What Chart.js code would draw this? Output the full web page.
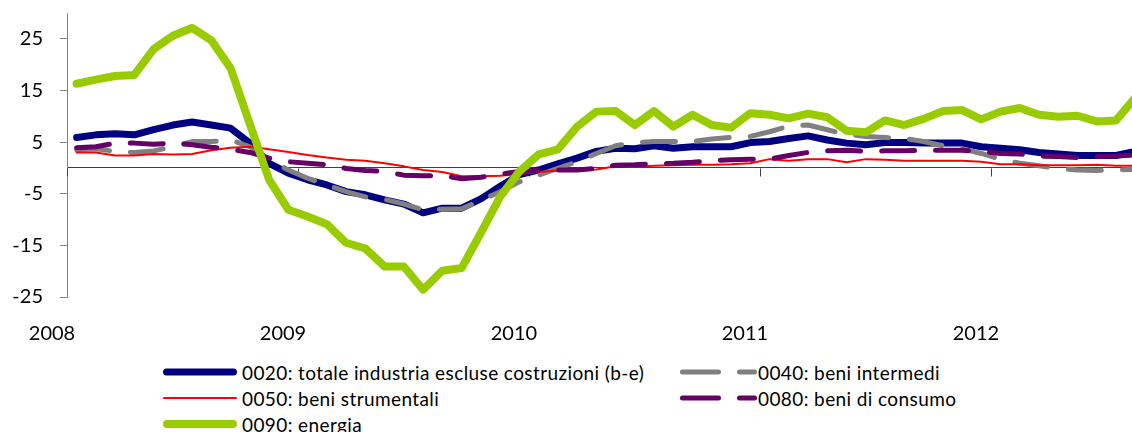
<!DOCTYPE html>
<html><head><meta charset="utf-8">
<script src="https://cdn.jsdelivr.net/npm/chart.js@4.4.1/dist/chart.umd.min.js"></script>
<style>
html,body{margin:0;padding:0;background:#fff;overflow:hidden;width:1132px;height:432px;}
#wrap{position:relative;width:1132px;height:432px;}
#c{position:absolute;left:0;top:0;}
.leg{position:absolute;height:26px;display:flex;align-items:center;font-family:Lato,"DejaVu Sans",sans-serif;font-size:19px;letter-spacing:0.4px;color:#000;white-space:nowrap;}
.leg svg{flex:none;display:block;}
</style></head>
<body><div id="wrap"><canvas id="c" width="1132" height="340"></canvas><div id="legend"></div></div>
<script>
// ---- data ----
const months = ['2008-01','2008-02','2008-03','2008-04','2008-05','2008-06','2008-07','2008-08','2008-09','2008-10','2008-11','2008-12',
'2009-01','2009-02','2009-03','2009-04','2009-05','2009-06','2009-07','2009-08','2009-09','2009-10','2009-11','2009-12',
'2010-01','2010-02','2010-03','2010-04','2010-05','2010-06','2010-07','2010-08','2010-09','2010-10','2010-11','2010-12',
'2011-01','2011-02','2011-03','2011-04','2011-05','2011-06','2011-07','2011-08','2011-09','2011-10','2011-11','2011-12',
'2012-01','2012-02','2012-03','2012-04','2012-05','2012-06','2012-07','2012-08'];
const totale = [5.9,6.4,6.6,6.4,7.4,8.3,8.9,8.3,7.7,4.8,0.9,-1.0,-2.3,-3.3,-4.6,-5.2,-6.2,-7.0,-8.7,-7.8,-7.8,-6.0,-3.6,-1.3,-0.4,0.8,1.9,3.2,3.8,3.7,4.3,3.8,4.1,4.1,4.1,4.9,5.1,5.7,6.2,5.4,4.8,4.5,4.9,4.9,4.8,4.8,4.8,4.1,3.8,3.5,3.0,2.7,2.4,2.4,2.4,3.2];
const intermedi = [3.5,3.7,3.2,3.0,3.3,4.1,5.1,5.1,5.4,4.1,1.6,-0.4,-2.0,-3.3,-4.6,-5.6,-6.1,-7.0,-8.1,-8.0,-7.9,-6.3,-4.6,-2.7,-1.4,-0.1,1.2,2.8,4.3,4.9,5.1,5.1,5.1,5.6,5.9,6.1,7.0,8.1,8.3,7.4,6.5,6.1,5.9,5.7,5.1,4.3,3.7,2.8,1.7,0.9,0.4,-0.1,-0.4,-0.5,-0.4,-0.3];
const strumentali = [3.0,3.0,2.4,2.4,2.7,2.6,2.7,3.4,3.9,4.1,3.6,3.1,2.5,2.0,1.6,1.4,0.9,0.3,-0.4,-0.8,-1.6,-1.6,-1.5,-1.2,-0.8,-0.5,-0.4,-0.3,0.3,0.2,0.4,0.5,0.6,0.6,0.7,0.9,1.7,1.4,1.7,1.7,1.1,1.7,1.6,1.4,1.4,1.4,1.4,1.2,0.7,0.7,0.5,0.5,0.5,0.6,0.4,0.4];
const consumo = [3.9,4.1,4.8,4.8,4.6,4.8,4.5,4.0,3.6,3.0,1.9,1.2,0.9,0.6,-0.1,-0.5,-0.7,-1.4,-1.5,-1.5,-2.1,-1.8,-1.2,-0.7,-0.5,-0.4,-0.4,-0.1,0.5,0.6,0.8,0.9,1.1,1.4,1.6,1.7,1.7,2.4,3.0,3.3,3.4,3.2,3.3,3.3,3.4,3.4,3.4,3.2,2.8,2.7,2.3,2.2,2.0,2.2,2.3,2.5];
const energia = [16.3,17.1,17.8,18.0,23.0,25.6,27.1,24.7,19.3,8.5,-2.3,-8.1,-9.4,-10.9,-14.5,-15.6,-19.1,-19.1,-23.6,-19.9,-19.4,-12.6,-5.6,-0.7,2.6,3.6,8.0,10.9,11.0,8.3,11.0,8.0,10.3,8.3,7.8,10.6,10.3,9.6,10.5,9.8,7.2,6.9,9.2,8.3,9.5,11.0,11.2,9.4,10.9,11.6,10.3,9.9,10.1,9.0,9.2,13.6];
const seriesNames = ['0020: totale industria escluse costruzioni (b-e)','0040: beni intermedi','0050: beni strumentali','0080: beni di consumo','0090: energia'];
const yearLabels = ['2008','2009','2010','2011','2012'];
const yTicks = [-25,-15,-5,0,5,15,25];
const yMin = -25, yMax = 30;

// ---- styles ----
const styles = [
  {color:'#000080', width:7, dash:[]},
  {color:'#808080', width:5, dash:[33,21]},
  {color:'#FF0000', width:2, dash:[]},
  {color:'#660066', width:5, dash:[33,21]},
  {color:'#99CC00', width:8, dash:[]}
];
const seriesData = [totale, intermedi, strumentali, consumo, energia];
const yearTickVals = yearLabels.map(y => months.indexOf(y + '-01') - 0.5);
const FONT = 'Lato';

const datasets = seriesData.map((arr, k) => ({
  label: seriesNames[k],
  data: arr.map((v, i) => ({x: i, y: v})),
  borderColor: styles[k].color,
  backgroundColor: styles[k].color,
  borderWidth: styles[k].width,
  borderDash: styles[k].dash,
  borderCapStyle: 'round',
  borderJoinStyle: 'round',
  pointRadius: 0,
  tension: 0,
  fill: false,
  order: 5 - k
}));

const zeroTicks = {
  id: 'zeroTicks',
  beforeDatasetsDraw(chart) {
    const {ctx, scales:{x, y}} = chart;
    const y0 = Math.round(y.getPixelForValue(0)) + 0.5;
    ctx.save();
    ctx.strokeStyle = '#404040';
    ctx.lineWidth = 1;
    yearTickVals.forEach(v => {
      const px = Math.round(x.getPixelForValue(v)) + 0.5;
      ctx.beginPath(); ctx.moveTo(px, y0); ctx.lineTo(px, y0 + 8); ctx.stroke();
    });
    ctx.restore();
  }
};

new Chart(document.getElementById('c'), {
  type: 'line',
  data: {datasets},
  options: {
    responsive: false,
    animation: false,
    devicePixelRatio: 1,
    layout: {padding: {top: 13, left: 0, right: 0, bottom: 0}},
    plugins: {legend: {display: false}, tooltip: {enabled: false}},
    scales: {
      x: {
        type: 'linear',
        min: -0.5,
        max: 54.83,
        afterBuildTicks: ax => { ax.ticks = yearTickVals.map(v => ({value: v})); },
        afterFit: ax => { ax.height = 43; ax.paddingLeft = 0; ax.paddingRight = 0; },
        grid: {display: false},
        border: {display: false},
        ticks: {
          autoSkip: false, maxRotation: 0, padding: 17, labelOffset: -15,
          color: '#000', font: {family: FONT, size: 20},
          callback: (v) => yearLabels[yearTickVals.indexOf(v)] ?? ''
        }
      },
      y: {
        min: yMin, max: yMax,
        afterBuildTicks: ax => { ax.ticks = yTicks.map(v => ({value: v})); },
        afterFit: ax => { ax.width = 67; ax.paddingTop = 0; ax.paddingBottom = 0; },
        border: {display: true, color: '#868686', width: 1},
        grid: {
          display: true, drawOnChartArea: true, drawTicks: true, tickLength: 7,
          color: c => (c.tick && c.tick.value === 0) ? '#404040' : 'rgba(0,0,0,0)',
          tickColor: c => (c.tick && c.tick.value === 0) ? 'rgba(0,0,0,0)' : '#868686',
          lineWidth: 1
        },
        ticks: {
          padding: 17, color: '#000', font: {family: FONT, size: 20},
          callback: v => v === 0 ? '' : String(v)
        }
      }
    }
  },
  plugins: [zeroTicks]
});

// ---- HTML legend ----
const legendLayout = [
  {k:0, left:163, top:372},
  {k:1, left:680, top:372},
  {k:2, left:163, top:398},
  {k:3, left:680, top:398},
  {k:4, left:163, top:424}
];
const legend = document.getElementById('legend');
legendLayout.forEach(item => {
  const st = styles[item.k];
  const div = document.createElement('div');
  div.className = 'leg';
  div.style.left = item.left + 'px';
  div.style.top = (item.top - 13) + 'px';
  const dashed = st.dash.length > 0;
  const w = dashed ? 77 : 74;
  const hw = st.width / 2;
  const svg = `<svg width="${w}" height="12" viewBox="0 0 ${w} 12"><line x1="${hw}" y1="6" x2="${w - hw}" y2="6" stroke="${st.color}" stroke-width="${st.width}" stroke-linecap="round" ${dashed ? 'stroke-dasharray="36 21"' : ''}/></svg>`;
  div.innerHTML = svg + `<span style="margin-left:${dashed ? 1 : 5}px">${seriesNames[item.k]}</span>`;
  legend.appendChild(div);
});
</script>
</body></html>
